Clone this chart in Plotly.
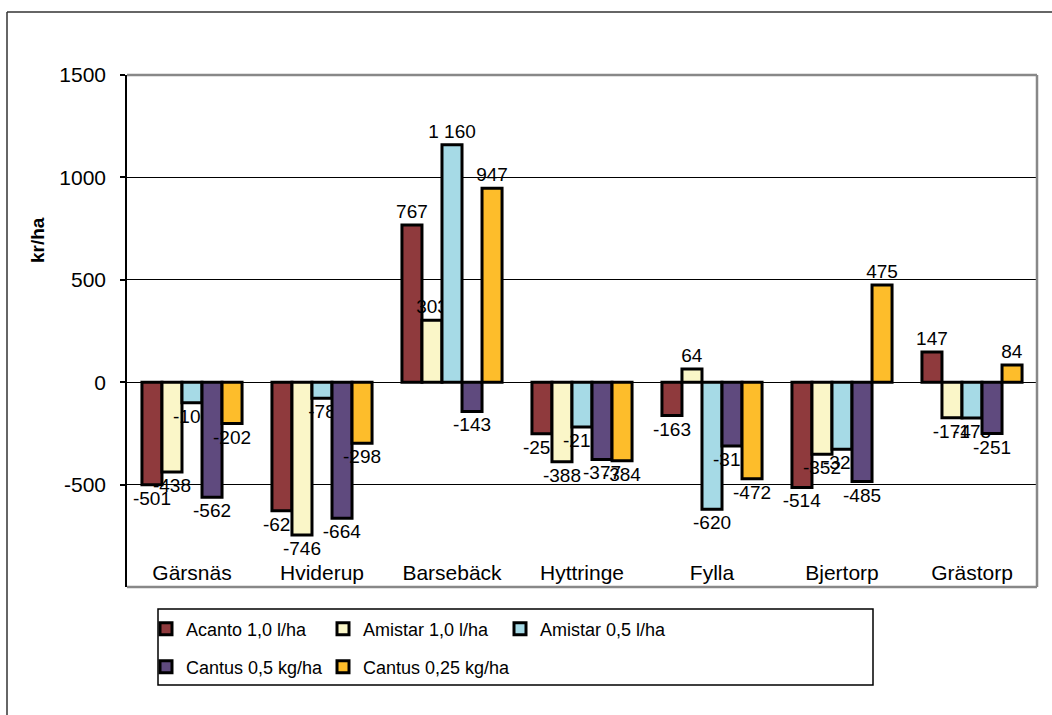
import plotly.graph_objects as go

categories = ["Gärsnäs", "Hviderup", "Barsebäck", "Hyttringe", "Fylla", "Bjertorp", "Grästorp"]
series_names = ["Acanto 1,0 l/ha", "Amistar 1,0 l/ha", "Amistar 0,5 l/ha", "Cantus 0,5 kg/ha", "Cantus 0,25 kg/ha"]
acanto_10 = [-501, -628, 767, -252, -163, -514, 147]
amistar_10 = [-438, -746, 303, -388, 64, -352, -174]
amistar_05 = [-100, -78, 1160, -219, -620, -328, -175]
cantus_05 = [-562, -664, -143, -377, -312, -485, -251]
cantus_025 = [-202, -298, 947, -384, -472, 475, 84]
y_ticks = [-1000, -500, 0, 500, 1000, 1500]

series_values = [acanto_10, amistar_10, amistar_05, cantus_05, cantus_025]
colors = ["#8F3A3D", "#FAF6C8", "#A6DAE6", "#5F4A7E", "#FDBD2B"]
legend_ids = ["legend", "legend", "legend", "legend2", "legend2"]
legend_widths = [132, 132, 132, 132, 170]

FONT = "Liberation Sans, Arial, sans-serif"


def fmt(v):
    s = f"{abs(v):,}".replace(",", " ")
    return ("-" if v < 0 else "") + s


fig = go.Figure()
for name, vals, col, lg, lw in zip(series_names, series_values, colors, legend_ids, legend_widths):
    fig.add_trace(go.Bar(
        x=categories, y=vals, name=name,
        marker=dict(color=col, line=dict(color="black", width=3)),
        text=[fmt(v) for v in vals],
        textposition="outside",
        constraintext="none",
        cliponaxis=False,
        textfont=dict(family=FONT, size=19, color="black"),
        legend=lg,
        legendwidth=lw,
        hoverinfo="skip",
    ))

# plot area pixel geometry (page coordinates, body margin removed)
W, H = 1052, 715
L, R, T, B = 127, 15, 75, 128
pw, ph = W - L - R, H - T - B


def px_x(x):
    return (x - L) / pw


def px_y(y):
    return (H - B - y) / ph


shapes = [
    # plot area gray border (top, right, bottom)
    dict(type="line", xref="paper", yref="paper", x0=0, x1=1, y0=1, y1=1, line=dict(color="#888888", width=2.5)),
    dict(type="line", xref="paper", yref="paper", x0=1, x1=1, y0=0, y1=1, line=dict(color="#888888", width=2.5)),
    dict(type="line", xref="paper", yref="paper", x0=0, x1=1, y0=0, y1=0, line=dict(color="#888888", width=2.5)),
    # outer chart border
    dict(type="line", xref="paper", yref="paper", x0=px_x(7), x1=px_x(1060), y0=px_y(12), y1=px_y(12),
         line=dict(color="#333333", width=1.5)),
    dict(type="line", xref="paper", yref="paper", x0=px_x(7), x1=px_x(7), y0=px_y(12), y1=px_y(720),
         line=dict(color="#333333", width=1.5)),
    # legend box
    dict(type="rect", xref="paper", yref="paper", x0=px_x(158), x1=px_x(873), y0=px_y(685), y1=px_y(609),
         line=dict(color="black", width=1.5)),
]

leg_common = dict(
    orientation="h", xanchor="left", yanchor="middle",
    font=dict(family=FONT, size=18, color="black"),
    bgcolor="rgba(0,0,0,0)", borderwidth=0,
    entrywidthmode="pixels",
    itemclick=False, itemdoubleclick=False,
)

fig.update_layout(
    width=W, height=H,
    margin=dict(l=L, r=R, t=T, b=B, autoexpand=False),
    paper_bgcolor="white", plot_bgcolor="white",
    font=dict(family=FONT, size=19, color="black"),
    barmode="group", bargap=0.23, bargroupgap=0,
    showlegend=True,
    hovermode=False,
    legend=dict(x=px_x(146), y=px_y(629), **leg_common),
    legend2=dict(x=px_x(146), y=px_y(667), **leg_common),
    xaxis=dict(
        type="category", showgrid=False, zeroline=False, showline=False,
        ticks="", ticklabelposition="inside",
        tickfont=dict(family=FONT, size=21, color="black"),
    ),
    yaxis=dict(
        range=[-1000, 1500], tickvals=y_ticks, ticktext=[str(v) for v in y_ticks],
        showgrid=True, gridcolor="black", gridwidth=1,
        zeroline=True, zerolinecolor="black", zerolinewidth=1,
        showline=True, linecolor="black", linewidth=1.5,
        ticks="outside", ticklen=5, tickcolor="black", tickwidth=1.5,
        ticklabelstandoff=10,
        tickfont=dict(family=FONT, size=21, color="black"),
    ),
    shapes=shapes,
    annotations=[dict(
        text="<b>kr/ha</b>", xref="paper", yref="paper", x=px_x(37), y=px_y(240),
        textangle=-90, showarrow=False, font=dict(family=FONT, size=19, color="black"),
        xanchor="center", yanchor="middle",
    )],
)

fig.write_html(
    "out.html",
    config={"displayModeBar": False, "staticPlot": False},
    post_script="document.body.style.margin='0';document.body.style.overflow='hidden';",
)
